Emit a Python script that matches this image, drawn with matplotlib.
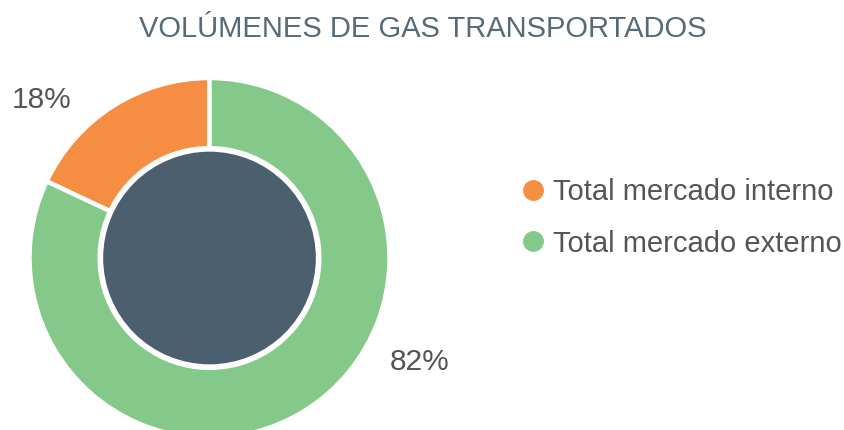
import matplotlib
matplotlib.use("Agg")
import matplotlib.pyplot as plt
from matplotlib.lines import Line2D
from matplotlib.patches import Circle

title = "VOLÚMENES DE GAS TRANSPORTADOS"
categories = ["Total mercado interno", "Total mercado externo"]
values = [18, 82]
labels = ["18%", "82%"]
colors = ["#f58d43", "#85c98a"]
center_color = "#4c5f6e"

W, H = 845, 430
fig = plt.figure(figsize=(W / 100, H / 100), dpi=100)
fig.patch.set_facecolor("white")

cx, cy, R = 209.5, 258, 180  # pixel center (from top) and radius
ax = fig.add_axes([(cx - R) / W, (H - cy - R) / H, 2 * R / W, 2 * R / H])
ax.axis("off")

wedges, _ = ax.pie(values, colors=colors, startangle=90, counterclock=True,
                   radius=1, wedgeprops=dict(width=0.39, edgecolor="white", linewidth=3.2))
ax.add_patch(Circle((0, 0), 0.60, facecolor=center_color, edgecolor="white",
                    linewidth=2.4, zorder=5))
ax.set_xlim(-1, 1)
ax.set_ylim(-1, 1)
ax.set_aspect("equal")

font = "Liberation Sans"
# data labels
ax.text(-0.935, 0.875, labels[0], fontsize=21.5, color="#555555", family=font,
        ha="center", va="center", clip_on=False)
ax.text(1.165, -0.575, labels[1], fontsize=21.5, color="#555555", family=font,
        ha="center", va="center", clip_on=False)

fig.text(0.5, 1 - 29 / H, title, fontsize=21, color="#566a79", family=font,
         ha="center", va="center")

handles = [Line2D([0], [0], marker="o", linestyle="none", markersize=14,
                  markerfacecolor=c, markeredgecolor=c) for c in colors]
leg = fig.legend(handles, categories, loc="center left",
                 bbox_to_anchor=(492 / W, 1 - 218 / H), frameon=False,
                 handletextpad=0.2, labelspacing=0.8, handlelength=1.0,
                 prop=dict(family=font, size=21))
for t in leg.get_texts():
    t.set_color("#555555")

fig.savefig("out.png", dpi=100, facecolor="white")
